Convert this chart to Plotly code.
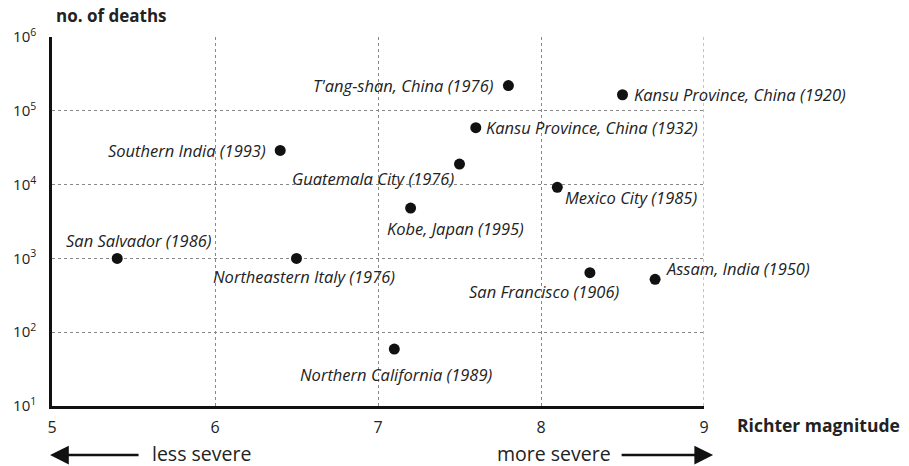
import math
import plotly.graph_objects as go

places = ["T'ang-shan, China (1976)", "Kansu Province, China (1920)", "Kansu Province, China (1932)",
          "Southern India (1993)", "Guatemala City (1976)", "Mexico City (1985)", "Kobe, Japan (1995)",
          "San Salvador (1986)", "Northeastern Italy (1976)", "San Francisco (1906)", "Assam, India (1950)",
          "Northern California (1989)"]
magnitude = [7.8, 8.5, 7.6, 6.4, 7.5, 8.1, 7.2, 5.4, 6.5, 8.3, 8.7, 7.1]
deaths = [220000, 165000, 59000, 29000, 19000, 9200, 4800, 1000, 1000, 640, 520, 59]

x_ticks = [5, 6, 7, 8, 9]
y_ticks = [10, 100, 1000, 10000, 100000, 1000000]
y_tick_text = ["10<sup>1</sup>", "10<sup>2</sup>", "10<sup>3</sup>", "10<sup>4</sup>", "10<sup>5</sup>", "10<sup>6</sup>"]

# label placement: (xanchor, xshift, yshift)
label_pos = [("right", -12, 0), ("left", 9, 0), ("left", 8, 0), ("right", -12, 0),
             ("right", -4, -14), ("left", 6, -10), ("left", -26, -20), ("center", 22, 18),
             ("center", 7, -18), ("right", 32, -19), ("left", 9, 11), ("center", 2, -25)]

FONT = "Open Sans"
TXT = "#222222"
GRID = "#888888"

fig = go.Figure()
fig.add_trace(go.Scatter(x=magnitude, y=deaths, mode="markers",
                         marker=dict(size=11, color="#111111"), cliponaxis=False,
                         hoverinfo="x+y"))

annotations = []
for name, mx, dy, (xa, xs, ys) in zip(places, magnitude, deaths, label_pos):
    annotations.append(dict(x=mx, y=math.log10(dy), xref="x", yref="y", text=name,
                            showarrow=False, xanchor=xa, yanchor="middle", xshift=xs, yshift=ys,
                            font=dict(family=FONT, size=16.5, color=TXT, style="italic")))

annotations += [
    dict(x=0.003, y=1.057, xref="paper", yref="paper", text="<b>no. of deaths</b>", showarrow=False,
         xanchor="left", yanchor="middle", font=dict(family=FONT, size=17, color=TXT)),
    dict(x=1.048, y=-0.051, xref="paper", yref="paper", text="<b>Richter magnitude</b>", showarrow=False,
         xanchor="left", yanchor="middle", font=dict(family=FONT, size=17.5, color=TXT)),
    dict(x=0.151, y=-0.128, xref="paper", yref="paper", text="less severe", showarrow=False,
         xanchor="left", yanchor="middle", font=dict(family=FONT, size=19.5, color=TXT)),
    dict(x=0.861, y=-0.128, xref="paper", yref="paper", text="more severe", showarrow=False,
         xanchor="right", yanchor="middle", font=dict(family=FONT, size=19.5, color=TXT)),
    dict(x=-0.003, y=-0.133, xref="paper", yref="paper", ax=90, ay=0, axref="pixel", ayref="pixel",
         text="", showarrow=True, arrowhead=2, arrowsize=1.5, arrowwidth=2.5, arrowcolor="#111111"),
    dict(x=1.014, y=-0.133, xref="paper", yref="paper", ax=-93, ay=0, axref="pixel", ayref="pixel",
         text="", showarrow=True, arrowhead=2, arrowsize=1.5, arrowwidth=2.5, arrowcolor="#111111"),
]

shapes = [
    dict(type="line", xref="paper", yref="y", x0=0, x1=1, y0=math.log10(y_ticks[-1]), y1=math.log10(y_ticks[-1]),
         line=dict(color=GRID, width=1, dash="dot"), layer="below"),
    dict(type="line", xref="x", yref="paper", x0=x_ticks[-1], x1=x_ticks[-1], y0=0, y1=1,
         line=dict(color=GRID, width=1, dash="dot"), layer="below"),
]

fig.update_layout(
    width=909, height=466,
    margin=dict(l=52, r=205, t=37, b=60),
    paper_bgcolor="white", plot_bgcolor="white",
    showlegend=False,
    annotations=annotations,
    shapes=shapes,
    xaxis=dict(range=[5, 9], tickvals=x_ticks, ticktext=[str(v) for v in x_ticks],
               showgrid=True, gridcolor=GRID, griddash="dot", gridwidth=1,
               showline=True, linecolor="#111111", linewidth=2.5, zeroline=False,
               ticks="", ticklabelstandoff=5,
               tickfont=dict(family=FONT, size=16, color=TXT)),
    yaxis=dict(type="log", range=[1, 6], tickvals=y_ticks, ticktext=y_tick_text,
               showgrid=True, gridcolor=GRID, griddash="dot", gridwidth=1,
               showline=True, linecolor="#111111", linewidth=2.5, zeroline=False,
               ticks="", ticklabelstandoff=10,
               tickfont=dict(family=FONT, size=15, color=TXT)),
)

fig.write_html("out.html", config={"displayModeBar": False},
               post_script="document.body.style.margin='0';")
